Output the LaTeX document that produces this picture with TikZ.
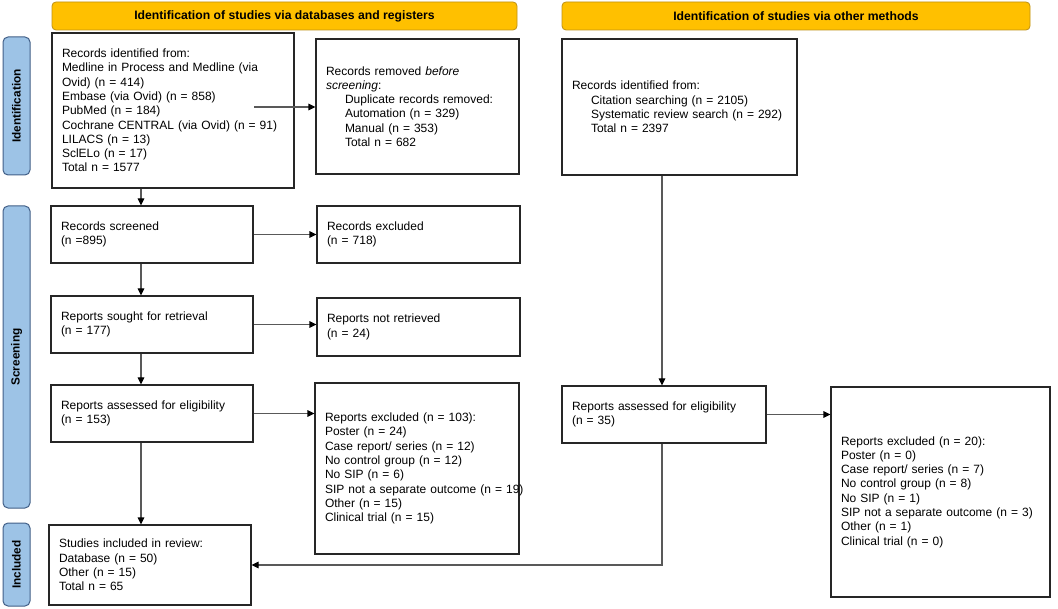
\documentclass[tikz,border=0pt]{standalone}
\usepackage{fontspec}
\setmainfont{Liberation Sans}
\usetikzlibrary{arrows.meta}
\definecolor{headfill}{RGB}{255,192,0}
\definecolor{headline}{RGB}{190,145,20}
\definecolor{sidefill}{RGB}{157,195,230}
\definecolor{sideline}{RGB}{65,95,135}
\begin{document}
\begin{tikzpicture}[x=1pt,y=-1pt,
  box/.style={draw=black!85, line width=1.1pt, align=left, inner xsep=10pt, inner ysep=0pt,
    font=\fontsize{12}{14.3}\selectfont},
  head/.style={draw=headline, fill=headfill, line width=0.8pt, rounded corners=4pt,
    font=\fontsize{12.2}{14}\selectfont\bfseries, inner sep=0pt},
  side/.style={draw=sideline, fill=sidefill, line width=1pt, rounded corners=5pt,
    font=\fontsize{11.8}{14}\selectfont\bfseries, inner sep=0pt},
  arr/.style={draw=black!65, line width=1.1pt, -{Triangle[length=7pt,width=6.5pt,color=black]}}]
\useasboundingbox (0,0) rectangle (1058,609);
\node[head, minimum width=465pt, minimum height=28pt] (hdb) at (284.5,16) {Identification of studies via databases and registers};
\node[head, minimum width=468pt, minimum height=28pt] (hother) at (796,16) {Identification of studies via other methods};
\node[side, minimum width=138pt, minimum height=27pt, rotate=90] (sid) at (16.5,106) {Identification};
\node[side, minimum width=302pt, minimum height=27pt, rotate=90] (sscr) at (16.5,357) {Screening};
\node[side, minimum width=83pt, minimum height=27pt, rotate=90] (sinc) at (16.5,564.5) {Included};
\node[box, minimum width=242pt, minimum height=155pt, text width=222pt] (ident) at (173,110.5) {Records identified from:\\
Medline in Process and Medline (via\\ Ovid) (n = 414)\\ Embase (via Ovid) (n = 858)\\ PubMed (n = 184)\\
Cochrane CENTRAL (via Ovid) (n = 91)\\ LILACS (n = 13)\\ SclELo (n = 17)\\ Total n = 1577\\[4pt]};
\node[box, minimum width=203pt, minimum height=135pt, text width=183pt] (removed) at (417.5,106.5) {Records removed \emph{before}\\ \emph{screening}:\\
\hspace*{19pt}Duplicate records removed:\\ \hspace*{19pt}Automation (n = 329)\\ \hspace*{19pt}Manual (n = 353)\\ \hspace*{19pt}Total n = 682};
\node[box, minimum width=235pt, minimum height=136pt, text width=215pt] (otherid) at (679.5,107) {Records identified from:\\
\hspace*{19pt}Citation searching (n = 2105)\\ \hspace*{19pt}Systematic review search (n = 292)\\ \hspace*{19pt}Total n = 2397};
\node[box, minimum width=202pt, minimum height=57pt, text width=182pt] (screened) at (152,234.5) {Records screened\\ (n =895)};
\node[box, minimum width=203pt, minimum height=57pt, text width=183pt] (excl) at (418.5,234.5) {Records excluded\\ (n = 718)};
\node[box, minimum width=202pt, minimum height=57pt, text width=182pt] (sought) at (152,324.5) {Reports sought for retrieval\\ (n = 177)};
\node[box, minimum width=203pt, minimum height=58pt, text width=183pt] (notret) at (418.5,327) {Reports not retrieved\\ (n = 24)};
\node[box, minimum width=202pt, minimum height=57pt, text width=182pt] (assess) at (152,413.5) {Reports assessed for eligibility\\ (n = 153)};
\node[box, minimum width=204pt, minimum height=171pt, text width=184pt, inner xsep=9pt, xshift=-1pt] (rexcl) at (418,468.5) {Reports excluded (n = 103):\\
Poster (n = 24)\\ Case report/ series (n = 12)\\ No control group (n = 12)\\ No SIP (n = 6)\\
\mbox{SIP not a separate outcome (n = 19)}\\ Other (n = 15)\\ Clinical trial (n = 15)};
\node[box, minimum width=202pt, minimum height=80pt, text width=182pt] (incl) at (150,565) {Studies included in review:\\
Database (n = 50)\\ Other (n = 15)\\ Total n = 65};
\node[box, minimum width=204pt, minimum height=57pt, text width=184pt] (oassess) at (664,414.5) {Reports assessed for eligibility\\ (n = 35)};
\node[box, minimum width=219pt, minimum height=210pt, text width=199pt] (oexcl) at (940.5,492) {Reports excluded (n = 20):\\
Poster (n = 0)\\ Case report/ series (n = 7)\\ No control group (n = 8)\\ No SIP (n = 1)\\
SIP not a separate outcome (n = 3)\\ Other (n = 1)\\ Clinical trial (n = 0)\\[8pt]};
\coordinate (colL) at (141,0);
\coordinate (colR) at (662,0);
\coordinate (fromid) at (254,107);
\draw[arr] (fromid) -- (fromid -| removed.west);
\draw[arr] (colL |- ident.south) -- (colL |- screened.north);
\draw[arr] (screened.east) -- (excl.west);
\draw[arr] (colL |- screened.south) -- (colL |- sought.north);
\draw[arr] (sought.east) -- (sought.east -| notret.west);
\draw[arr] (colL |- sought.south) -- (colL |- assess.north);
\draw[arr] (assess.east) -- (assess.east -| rexcl.west);
\draw[arr] (colL |- assess.south) -- (colL |- incl.north);
\draw[arr] (colR |- otherid.south) -- (colR |- oassess.north);
\draw[arr] (oassess.east) -- (oassess.east -| oexcl.west);
\draw[arr] (colR |- oassess.south) |- (incl.east);
\end{tikzpicture}
\end{document}
